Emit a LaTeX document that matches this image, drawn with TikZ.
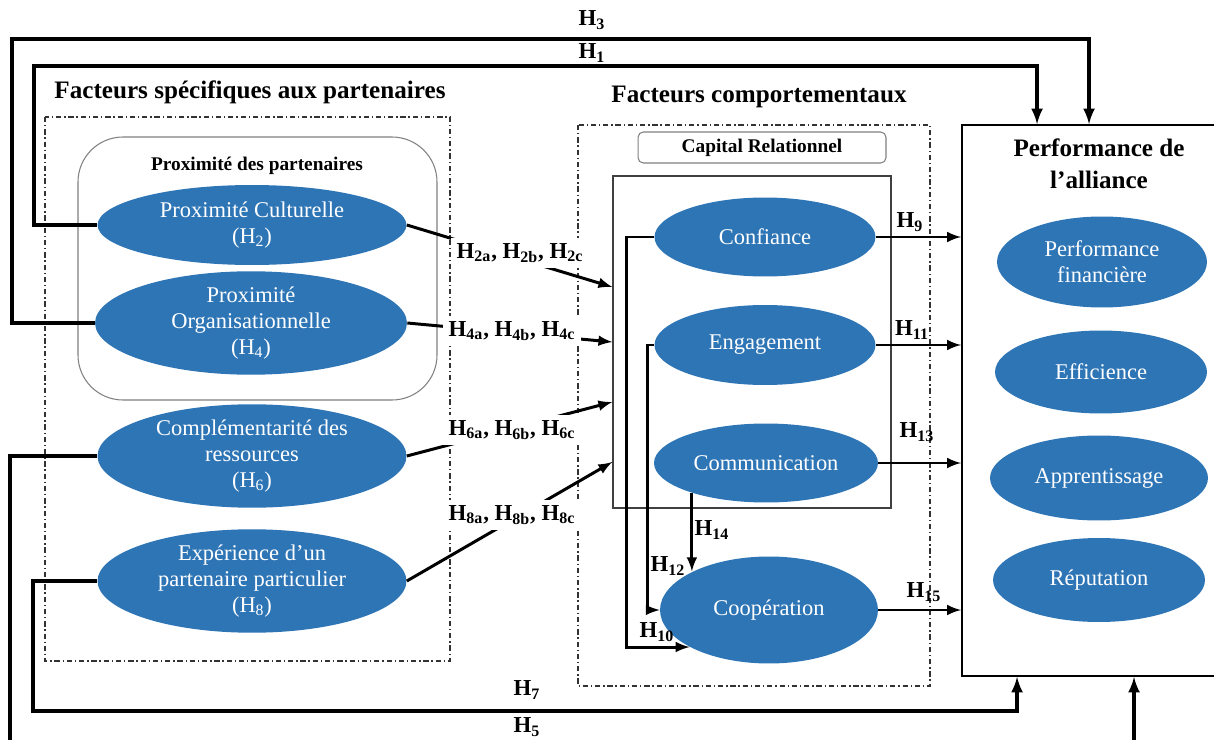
\documentclass[tikz,border=0pt]{standalone}
\usepackage{fontspec}
\setmainfont{Liberation Serif}
\usetikzlibrary{shapes.geometric, arrows}
\definecolor{ovalblue}{RGB}{46,117,182}
\newcommand{\hsub}[1]{H\textsubscript{#1}}

\tikzset{
    oval/.style={ellipse, fill=ovalblue, text=white, inner sep=0pt, align=center,
        font=\fontsize{12.8}{15}\selectfont},
    hyplab/.style={font=\bfseries\fontsize{13}{15}\selectfont, inner sep=1pt},
    midlab/.style={hyplab, fill=white, inner sep=3pt},
    heading/.style={font=\bfseries\fontsize{14.3}{18}\selectfont, align=center},
    subhead/.style={font=\bfseries\fontsize{11}{13}\selectfont},
    dashbox/.style={line width=0.6pt, black!80, dash pattern=on 3pt off 1.6pt on 0.8pt off 1.6pt},
    longlink/.style={line width=2pt, -latex},
    shortlink/.style={line width=1.7pt, -latex}
}

\begin{document}
\begin{tikzpicture}[x=0.02cm, y=-0.02cm]
        \useasboundingbox (0,0) rectangle (1214,740);

        \draw[dashbox] (45,117) rectangle (450,661);
        \draw[dashbox] (578,125) rectangle (930,686);
        \draw[gray, line width=0.6pt, rounded corners=0.9cm] (78,137) rectangle (437,400);

        \node[heading] (fsp) at (250,92) {Facteurs spécifiques aux partenaires};
        \node[heading] (fco) at (759,97) {Facteurs comportementaux};
        \node[subhead] (prox) at (257,166) {Proximité des partenaires};

        \node[draw=gray, line width=0.6pt, rounded corners=3pt, minimum width=4.96cm,
            minimum height=0.62cm, subhead] (cap) at (762,147.5) {Capital Relationnel};
        \node[draw=black!75, line width=0.8pt, minimum width=5.56cm, minimum height=6.64cm] (crbox) at (752,342) {};
        \node[draw, line width=1.1pt, minimum width=5.12cm, minimum height=11.02cm] (perf) at (1090,400.5) {};
        \node[heading] (perft) at (1099,164) {Performance de\\l’alliance};

        \node[oval, minimum width=6.18cm, minimum height=1.6cm] (pc) at (252,225) {Proximité Culturelle\\(\hsub{2})};
        \node[oval, minimum width=6.24cm, minimum height=1.8cm] (po) at (251,323) {Proximité\\Organisationnelle\\(\hsub{4})};
        \node[oval, minimum width=6.18cm, minimum height=1.76cm] (cr) at (252,456) {Complémentarité des\\ressources\\(\hsub{6})};
        \node[oval, minimum width=6.18cm, minimum height=1.96cm] (ex) at (252,581) {Expérience d’un\\partenaire particulier\\(\hsub{8})};

        \node[oval, minimum width=4.42cm, minimum height=1.58cm] (conf) at (765,237) {Confiance};
        \node[oval, minimum width=4.42cm, minimum height=1.6cm] (eng) at (765,345) {Engagement};
        \node[oval, minimum width=4.48cm, minimum height=1.58cm] (com) at (766,463) {Communication};
        \node[oval, minimum width=4.36cm, minimum height=2.14cm] (coop) at (769,610) {Coopération};

        \node[oval, minimum width=4.2cm, minimum height=1.82cm] (pf) at (1102,262) {Performance\\financière};
        \node[oval, minimum width=4.24cm, minimum height=1.66cm] (eff) at (1101,372) {Efficience};
        \node[oval, minimum width=4.36cm, minimum height=1.7cm] (app) at (1099,478) {Apprentissage};
        \node[oval, minimum width=4.24cm, minimum height=1.68cm] (rep) at (1099,580) {Réputation};

        \draw[longlink] (po.west) -| (12,39) -| ([xshift=2.56cm]perf.north west);
        \draw[longlink] (pc.west) -| (34,66) -| ([xshift=1.52cm]perf.north west);
        \draw[longlink] (cr.west) -| (10,743) -| ([xshift=3.46cm]perf.south west);
        \draw[longlink] (ex.west) -| (33,711) -| ([xshift=1.12cm]perf.south west);

        \draw[shortlink] (pc.east) -- ([yshift=1.1cm]crbox.west);
        \draw[shortlink] (po.east) -- (crbox.west);
        \draw[shortlink] (cr.east) -- ([yshift=-1.2cm]crbox.west);
        \draw[shortlink] (ex.east) -- ([yshift=-2.4cm]crbox.west);

        \node[midlab] (l2) at (520,253) {\hsub{2a}, \hsub{2b}, \hsub{2c}};
        \node[midlab] (l4) at (512,331) {\hsub{4a}, \hsub{4b}, \hsub{4c}};
        \node[midlab] (l6) at (512,430) {\hsub{6a}, \hsub{6b}, \hsub{6c}};
        \node[midlab] (l8) at (512,515) {\hsub{8a}, \hsub{8b}, \hsub{8c}};

        \draw[shortlink] (conf.west) -- ++(-0.56cm,0) |- (coop.205);
        \draw[shortlink] (eng.west) -- ++(-0.14cm,0) |- (coop.west);
        \draw[shortlink] (com.202) -- (com.202 |- coop.153);

        \draw[shortlink] (conf.east) -- (conf.east -| perf.west);
        \draw[shortlink] (eng.east) -- (eng.east -| perf.west);
        \draw[shortlink] (com.east) -- (com.east -| perf.west);
        \draw[shortlink] (coop.east) -- (coop.east -| perf.west);

        \node[hyplab] (h3) at (592,20) {\hsub{3}};
        \node[hyplab] (h1) at (592,53) {\hsub{1}};
        \node[hyplab] (h7) at (527,690) {\hsub{7}};
        \node[hyplab] (h5) at (527,727) {\hsub{5}};
        \node[hyplab] (h9) at (910,222) {\hsub{9}};
        \node[hyplab] (h11) at (912,330) {\hsub{11}};
        \node[hyplab] (h13) at (917,432) {\hsub{13}};
        \node[hyplab] (h15) at (924,592) {\hsub{15}};
        \node[hyplab] (h10) at (657,632) {\hsub{10}};
        \node[hyplab] (h12) at (668,566) {\hsub{12}};
        \node[hyplab] (h14) at (712,530) {\hsub{14}};
    \end{tikzpicture}
\end{document}
